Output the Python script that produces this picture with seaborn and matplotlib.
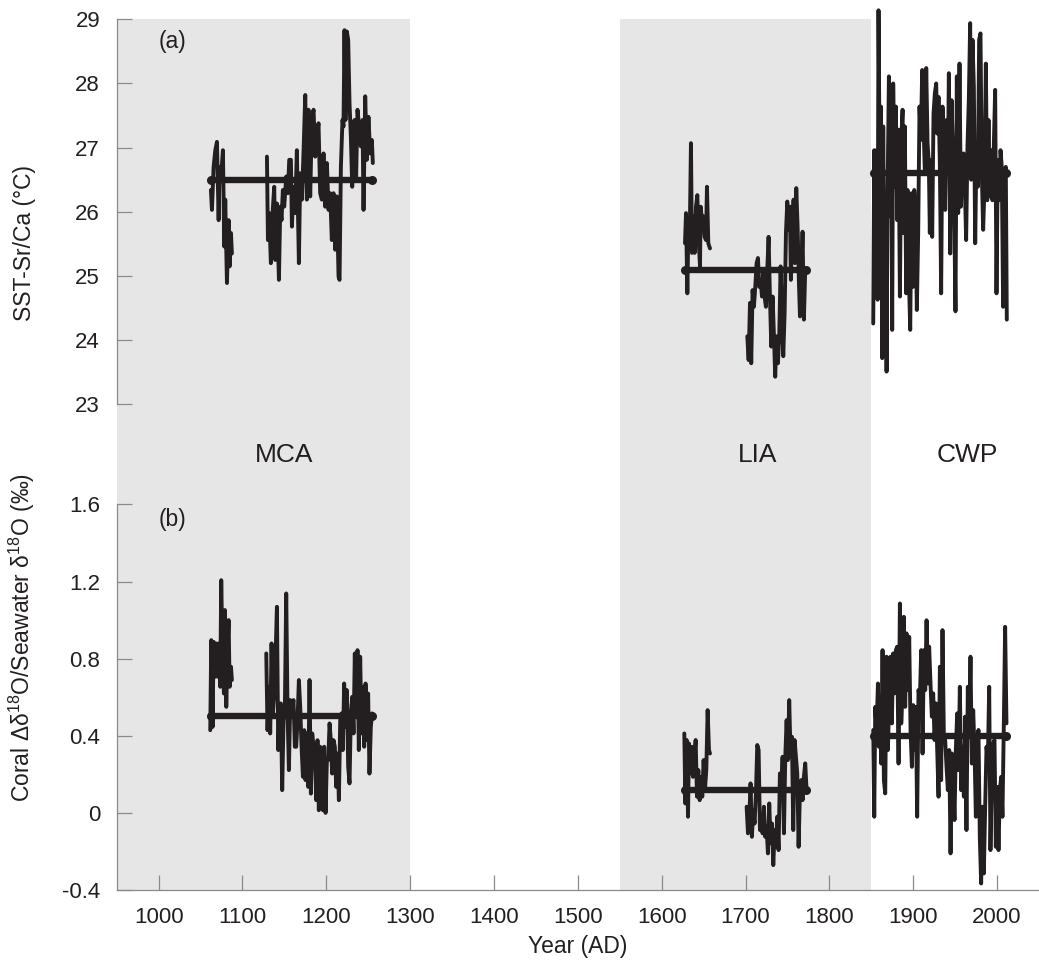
import pandas as pd
import matplotlib
matplotlib.use("Agg")
import matplotlib.pyplot as plt
import seaborn as sns

# ---- (a) SST from Sr/Ca ----
sst_mca1_year = [1062.4, 1063.6, 1065.6, 1067.6, 1069.6, 1071.6, 1072.7, 1074.3, 1076.7, 1078.3,
                 1079.5, 1081.5, 1083.5, 1084.7, 1086.3, 1087.4]
sst_mca1 = [26.34, 26.03, 26.70, 26.96, 27.09, 25.87, 26.70, 26.50, 26.96, 25.46,
            26.19, 24.89, 25.87, 25.15, 25.67, 25.35]

sst_mca2_year = [1129.2, 1130.4, 1131.9, 1133.9, 1135.9, 1137.9, 1139.1, 1141.1, 1143.5, 1145.1,
                 1146.6, 1148.2, 1149.8, 1152.2, 1154.2, 1155.8, 1157.8, 1159.0, 1160.9, 1162.9,
                 1164.9, 1167.3, 1168.9, 1170.9, 1172.9, 1174.9, 1176.8, 1178.8, 1180.8, 1182.8,
                 1184.8, 1186.8, 1188.8, 1190.7, 1192.7, 1194.7, 1196.7, 1198.7, 1200.7, 1202.7,
                 1204.6, 1206.6, 1208.6, 1210.6, 1212.6, 1214.6, 1215.8, 1217.4, 1219.3, 1220.5,
                 1221.7, 1222.9, 1224.5, 1226.1, 1227.7, 1229.3, 1230.9, 1232.5, 1233.6, 1235.6,
                 1237.2, 1239.6, 1241.2, 1243.2, 1244.4, 1246.4, 1248.4, 1250.3, 1252.3, 1254.3,
                 1255.5]
sst_mca2 = [26.86, 25.56, 25.98, 25.20, 25.98, 26.39, 25.25, 26.13, 24.94, 26.08,
            25.87, 26.34, 26.08, 26.55, 26.29, 26.81, 26.81, 25.77, 26.39, 25.98,
            26.96, 25.20, 26.60, 26.19, 26.96, 27.82, 26.19, 27.59, 26.24, 27.43,
            27.59, 26.86, 27.17, 27.38, 26.29, 26.19, 26.91, 26.08, 26.76, 26.03,
            26.29, 25.56, 26.29, 25.41, 26.24, 24.99, 24.94, 26.70, 27.43, 27.33,
            28.83, 27.43, 28.81, 28.68, 27.69, 27.17, 26.39, 27.17, 27.43, 26.55,
            27.59, 27.28, 27.02, 27.43, 26.03, 27.80, 26.81, 27.48, 26.91, 27.12,
            26.76]

sst_lia1_year = [1627.8, 1629.0, 1630.6, 1631.8, 1633.7, 1634.9, 1636.1, 1637.7, 1639.3, 1640.9,
                 1642.5, 1644.1, 1645.7, 1646.5, 1648.0, 1649.6, 1651.2, 1652.8, 1654.0, 1655.6,
                 1657.6]
sst_lia1 = [25.51, 25.98, 24.73, 25.72, 25.87, 27.07, 25.36, 25.93, 25.36, 26.08,
            26.26, 25.56, 25.15, 26.08, 25.87, 25.93, 25.61, 25.56, 26.39, 25.51,
            25.43]

sst_lia2_year = [1702.1, 1703.7, 1705.3, 1706.8, 1708.4, 1710.0, 1711.6, 1713.2, 1714.8, 1716.4,
                 1718.0, 1719.6, 1721.1, 1722.7, 1724.3, 1725.9, 1727.5, 1729.1, 1730.7, 1732.3,
                 1733.9, 1735.4, 1737.0, 1738.6, 1740.2, 1741.8, 1743.4, 1745.0, 1746.6, 1748.2,
                 1749.8, 1751.3, 1752.9, 1754.1, 1755.7, 1757.3, 1758.9, 1760.5, 1762.1, 1763.7,
                 1764.9, 1766.4, 1768.0, 1769.6, 1771.2, 1772.8]
sst_lia2 = [24.06, 23.69, 24.58, 23.64, 24.78, 24.52, 24.83, 25.20, 25.28, 24.83,
            24.94, 24.68, 25.09, 24.68, 24.52, 25.09, 25.61, 24.68, 23.90, 24.68,
            24.06, 23.43, 24.06, 23.64, 24.06, 25.15, 24.37, 23.75, 24.42, 25.67,
            26.16, 25.72, 26.08, 24.94, 25.72, 26.19, 25.20, 26.37, 25.77, 24.89,
            24.37, 24.89, 25.69, 24.32, 25.09, 25.09]

sst_cwp_year = [1852.3, 1853.5, 1855.1, 1856.3, 1857.5, 1858.6, 1860.2, 1861.4, 1863.0, 1864.2,
                1865.8, 1867.0, 1868.2, 1869.4, 1871.0, 1872.2, 1873.7, 1874.9, 1876.1, 1877.7,
                1879.3, 1880.9, 1882.5, 1884.1, 1885.7, 1887.3, 1888.4, 1890.0, 1891.6, 1893.2,
                1894.8, 1896.4, 1898.0, 1899.6, 1901.2, 1902.7, 1904.3, 1905.9, 1907.5, 1909.1,
                1910.7, 1912.3, 1913.9, 1915.5, 1917.1, 1918.6, 1919.8, 1921.0, 1922.6, 1924.2,
                1925.8, 1927.4, 1928.6, 1930.2, 1931.8, 1933.3, 1934.9, 1936.5, 1938.1, 1939.7,
                1941.3, 1942.5, 1944.1, 1945.7, 1947.2, 1948.8, 1950.4, 1952.0, 1953.6, 1955.2,
                1956.8, 1958.4, 1960.0, 1961.5, 1963.1, 1964.7, 1966.3, 1967.9, 1969.1, 1970.7,
                1972.3, 1973.9, 1975.5, 1977.0, 1978.6, 1980.2, 1981.8, 1983.4, 1985.0, 1986.6,
                1988.2, 1989.8, 1991.3, 1992.9, 1994.5, 1996.1, 1997.7, 1999.3, 2000.9, 2002.5,
                2004.1, 2005.6, 2007.2, 2008.8, 2010.4, 2011.6]
sst_cwp = [24.26, 26.96, 25.56, 26.96, 24.63, 29.14, 26.29, 27.64, 23.72, 27.33,
           24.47, 26.08, 23.51, 26.29, 28.11, 25.93, 27.22, 24.16, 28.00, 26.39,
           27.64, 25.87, 27.28, 24.68, 27.12, 27.59, 25.67, 27.33, 24.73, 26.34,
           24.99, 24.16, 26.29, 24.83, 26.34, 26.03, 24.47, 25.67, 27.64, 27.12,
           28.21, 27.33, 26.60, 28.24, 27.07, 26.76, 25.67, 26.81, 25.61, 27.53,
           27.85, 28.00, 27.22, 27.79, 26.70, 24.73, 27.64, 27.02, 26.03, 27.43,
           26.60, 28.16, 25.35, 27.74, 27.02, 26.08, 24.45, 28.11, 25.98, 28.31,
           26.08, 26.70, 26.91, 26.44, 25.56, 27.02, 27.74, 28.94, 26.50, 28.68,
           27.95, 25.51, 27.07, 26.39, 28.68, 28.78, 26.60, 25.72, 26.39, 28.31,
           26.18, 27.43, 26.24, 26.96, 26.18, 27.02, 27.90, 24.73, 26.81, 26.18,
           26.96, 26.70, 24.52, 26.50, 26.70, 24.32]

# ---- (b) coral d18O minus seawater d18O ----
d18o_mca1_year = [1061.6, 1062.8, 1064.4, 1065.6, 1067.2, 1068.8, 1070.4, 1071.9, 1073.5, 1074.7,
                  1076.3, 1077.9, 1079.1, 1080.7, 1082.3, 1083.5, 1084.7, 1086.3, 1087.4]
d18o_mca1 = [0.429, 0.896, 0.446, 0.887, 0.706, 0.879, 0.706, 0.879, 0.654, 1.207,
             0.792, 0.619, 1.052, 0.550, 0.861, 1.000, 0.654, 0.758, 0.689]

d18o_mca2_year = [1128.4, 1129.9, 1131.5, 1133.1, 1134.7, 1136.3, 1137.9, 1139.5, 1141.1, 1142.7,
                  1144.3, 1145.8, 1147.4, 1149.0, 1150.6, 1152.2, 1153.8, 1155.4, 1157.0, 1159.0,
                  1160.9, 1162.5, 1164.1, 1165.7, 1167.3, 1168.9, 1170.5, 1172.1, 1173.7, 1175.2,
                  1176.8, 1178.4, 1180.0, 1181.6, 1183.2, 1184.8, 1186.4, 1188.0, 1189.5, 1191.1,
                  1192.7, 1194.3, 1195.9, 1197.5, 1199.1, 1200.7, 1202.3, 1203.9, 1205.4, 1207.0,
                  1208.6, 1210.2, 1211.8, 1213.4, 1215.0, 1216.6, 1218.2, 1219.7, 1221.3, 1222.9,
                  1224.5, 1226.1, 1227.7, 1229.3, 1230.9, 1232.5, 1234.0, 1235.6, 1237.2, 1238.8,
                  1240.4, 1242.0, 1243.6, 1245.2, 1246.8, 1248.4, 1249.9, 1251.5, 1253.1, 1254.7]
d18o_mca2 = [0.827, 0.429, 0.654, 0.412, 0.879, 0.516, 0.619, 0.810, 1.069, 0.326,
             0.550, 0.568, 0.118, 0.481, 0.550, 1.138, 0.516, 0.222, 0.585, 0.550,
             0.585, 0.343, 0.343, 0.481, 0.689, 0.550, 0.343, 0.187, 0.429, 0.170,
             0.412, 0.135, 0.689, 0.100, 0.412, 0.343, 0.308, 0.066, 0.377, 0.014,
             0.343, 0.308, 0.014, 0.343, 0.000, 0.274, 0.274, 0.464, 0.377, 0.204,
             0.377, 0.343, 0.135, 0.308, 0.066, 0.481, 0.516, 0.326, 0.671, 0.447,
             0.637, 0.239, 0.153, 0.516, 0.602, 0.412, 0.827, 0.516, 0.844, 0.326,
             0.810, 0.412, 0.654, 0.343, 0.671, 0.377, 0.619, 0.204, 0.447, 0.516]

d18o_lia1_year = [1627.0, 1628.2, 1629.8, 1631.4, 1632.5, 1634.1, 1635.7, 1637.3, 1638.9, 1640.5,
                  1642.1, 1643.7, 1645.3, 1646.9, 1648.4, 1650.0, 1651.6, 1653.2, 1654.8, 1656.4,
                  1657.6]
d18o_lia1 = [0.412, 0.049, 0.378, -0.020, 0.360, 0.205, 0.343, 0.187, 0.291, 0.378,
             0.084, 0.222, 0.066, 0.187, 0.084, 0.274, 0.118, 0.222, 0.533, 0.326,
             0.308]

d18o_lia2_year = [1701.3, 1702.9, 1704.5, 1706.0, 1707.6, 1709.2, 1710.8, 1712.4, 1714.0, 1715.6,
                  1717.2, 1718.8, 1720.3, 1721.9, 1723.5, 1725.1, 1726.7, 1728.3, 1729.9, 1731.5,
                  1733.1, 1734.7, 1736.2, 1737.8, 1739.4, 1741.0, 1742.6, 1744.2, 1745.8, 1747.4,
                  1749.0, 1750.5, 1752.1, 1753.7, 1755.3, 1756.9, 1758.5, 1760.1, 1761.7, 1763.3,
                  1764.9, 1766.4, 1768.0, 1769.6, 1771.2, 1772.8]
d18o_lia2 = [0.032, -0.106, -0.020, 0.153, -0.124, 0.015, -0.055, 0.101, 0.352, 0.326,
             -0.089, -0.020, -0.106, 0.032, -0.124, -0.072, -0.210, 0.049, -0.158, -0.055,
             -0.271, -0.089, -0.176, -0.020, -0.193, 0.205, 0.118, 0.291, -0.106, 0.291,
             0.481, 0.274, 0.585, 0.291, 0.395, -0.089, 0.378, 0.291, 0.205, -0.176,
             0.118, 0.170, 0.066, 0.187, 0.257, 0.118]

d18o_cwp_year = [1852.3, 1853.5, 1854.7, 1856.3, 1857.9, 1859.0, 1860.2, 1861.8, 1863.4, 1865.0,
                 1866.6, 1868.2, 1869.8, 1871.4, 1872.9, 1874.5, 1876.1, 1877.7, 1879.3, 1880.9,
                 1882.5, 1884.1, 1885.7, 1887.3, 1888.8, 1890.4, 1892.0, 1893.6, 1895.2, 1896.8,
                 1898.4, 1900.0, 1901.6, 1903.1, 1904.7, 1906.3, 1907.9, 1909.5, 1911.1, 1912.7,
                 1914.3, 1915.9, 1917.4, 1919.0, 1920.6, 1922.2, 1923.8, 1925.4, 1927.0, 1928.6,
                 1930.2, 1931.8, 1933.3, 1934.9, 1936.5, 1938.1, 1939.7, 1941.3, 1942.9, 1944.5,
                 1946.1, 1947.6, 1949.2, 1950.8, 1952.4, 1954.0, 1955.6, 1957.2, 1958.8, 1960.4,
                 1961.9, 1963.5, 1965.1, 1966.7, 1968.3, 1969.9, 1971.5, 1973.1, 1974.7, 1976.2,
                 1977.8, 1979.4, 1981.0, 1982.6, 1984.2, 1985.8, 1987.4, 1989.0, 1990.6, 1992.1,
                 1993.7, 1995.3, 1996.9, 1998.5, 2000.1, 2001.7, 2003.3, 2004.9, 2006.4, 2008.0,
                 2009.6, 2011.2]
d18o_cwp = [0.430, -0.020, 0.550, 0.430, 0.671, 0.343, 0.602, 0.256, 0.844, 0.170,
            0.101, 0.810, 0.326, 0.602, 0.810, 0.464, 0.827, 0.620, 0.844, 0.862,
            0.256, 1.086, 0.464, 0.637, 1.017, 0.550, 0.931, 0.637, 0.913, 0.430,
            0.239, 0.559, 0.326, 0.550, -0.020, 0.637, 0.585, 0.844, 0.308, 0.844,
            0.637, 0.999, 0.671, 0.862, 0.671, 0.499, 0.620, 0.378, 0.568, 0.326,
            0.084, 0.758, 0.170, 0.948, 0.412, 0.378, 0.239, 0.118, 0.326, -0.210,
            0.308, 0.205, -0.037, 0.326, 0.516, 0.222, 0.654, 0.118, 0.343, 0.084,
            0.499, -0.089, 0.654, 0.395, 0.810, 0.256, 0.533, 0.326, -0.020, 0.360,
            0.430, -0.124, -0.366, 0.032, -0.314, 0.032, 0.343, 0.274, 0.654, -0.193,
            0.205, 0.360, 0.378, -0.176, 0.135, -0.193, 0.118, 0.187, -0.020, 0.447,
            0.965, 0.464]

# period means
periods = ["MCA", "LIA", "CWP"]
mean_start = [1063, 1628, 1853]
mean_end = [1255, 1772, 2011]
sst_mean = [26.5, 25.1, 26.6]
d18o_mean = [0.5, 0.12, 0.4]

# shaded periods and labels
shade_start = [950, 1550]
shade_end = [1300, 1850]
label_year = [1150, 1715, 1965]

x_ticks = [1000, 1100, 1200, 1300, 1400, 1500, 1600, 1700, 1800, 1900, 2000]
sst_ticks = [23, 24, 25, 26, 27, 28, 29]
d18o_ticks = [-0.4, 0, 0.4, 0.8, 1.2, 1.6]
d18o_tick_labels = ["-0.4", "0", "0.4", "0.8", "1.2", "1.6"]

ink = "#231f20"
grey = "#8a8a8a"
shade = "#e6e6e6"

sns.set_style("white")
plt.rcParams["font.family"] = ["Liberation Sans", "DejaVu Sans"]
plt.rcParams["mathtext.fontset"] = "custom"
plt.rcParams["mathtext.rm"] = "Liberation Sans"


def series_frame(segments):
    parts = [pd.DataFrame({"year": yr, "value": val, "seg": i})
             for i, (yr, val) in enumerate(segments)]
    return pd.concat(parts, ignore_index=True)


def mean_frame(means):
    rows = []
    for p, s, e, m in zip(periods, mean_start, mean_end, means):
        rows.append({"year": s, "value": m, "period": p})
        rows.append({"year": e, "value": m, "period": p})
    return pd.DataFrame(rows)


sst_df = series_frame([(sst_mca1_year, sst_mca1), (sst_mca2_year, sst_mca2),
                       (sst_lia1_year, sst_lia1), (sst_lia2_year, sst_lia2),
                       (sst_cwp_year, sst_cwp)])
d18o_df = series_frame([(d18o_mca1_year, d18o_mca1), (d18o_mca2_year, d18o_mca2),
                        (d18o_lia1_year, d18o_lia1), (d18o_lia2_year, d18o_lia2),
                        (d18o_cwp_year, d18o_cwp)])

fig = plt.figure(figsize=(10.39, 9.6), dpi=100)
ax1 = fig.add_axes([0.1123, 0.526, 0.8877, 0.4539])
ax2 = fig.add_axes([0.1123, 0.0729, 0.8877, 0.4531])

for ax, df, means in [(ax1, sst_df, sst_mean), (ax2, d18o_df, d18o_mean)]:
    for s, e in zip(shade_start, shade_end):
        ax.axvspan(s, e, color=shade, lw=0, zorder=0)
    sns.lineplot(data=df, x="year", y="value", units="seg", estimator=None, sort=False,
                 color=ink, lw=2.8, ax=ax, legend=False, clip_on=False, zorder=3)
    sns.lineplot(data=mean_frame(means), x="year", y="value", units="period",
                 estimator=None, sort=False, color=ink, lw=4.6, marker="o", markersize=6.5,
                 markeredgewidth=0, solid_capstyle="round", ax=ax, legend=False, zorder=4)
    ax.set_xlim(950, 2050)
    ax.set_xlabel("")
    ax.set_ylabel("")
    ax.tick_params(left=True, bottom=True, direction="in", length=10.8, width=0.9,
                   color=grey, pad=12, labelsize=16, labelcolor=ink)
    for side in ["top", "right"]:
        ax.spines[side].set_visible(False)
    for side in ["left", "bottom"]:
        ax.spines[side].set_color(grey)
        ax.spines[side].set_linewidth(0.9)

# panel (a)
ax1.set_ylim(22.21, 29)
ax1.set_yticks(sst_ticks)
ax1.spines["left"].set_bounds(23, 29)
ax1.spines["bottom"].set_visible(False)
ax1.tick_params(bottom=False, labelbottom=False)
ax1.set_ylabel("SST-Sr/Ca (°C)", fontsize=16.5, color=ink)
ax1.yaxis.set_label_coords(-0.088, 0.487)
ax1.text(1017, 28.65, "(a)", fontsize=16.5, color=ink, ha="center", va="center")

# panel (b)
ax2.set_ylim(-0.4, 1.856)
ax2.set_yticks(d18o_ticks, d18o_tick_labels)
ax2.spines["left"].set_bounds(-0.4, 1.6)
ax2.set_xticks(x_ticks)
ax2.set_ylabel("Coral Δδ$^{18}$O/Seawater δ$^{18}$O (‰)", fontsize=16.5, color=ink)
ax2.yaxis.set_label_coords(-0.086, 0.58)
ax2.set_xlabel("Year (AD)", fontsize=16.5, color=ink, labelpad=5)
ax2.text(1017, 1.524, "(b)", fontsize=16.5, color=ink, ha="center", va="center")

for p, yr in zip(periods, label_year):
    ax2.text(yr, 1.0, p, transform=ax2.get_xaxis_transform(), fontsize=19, color=ink,
             ha="center", va="center")

fig.savefig("out.png", dpi=100)
